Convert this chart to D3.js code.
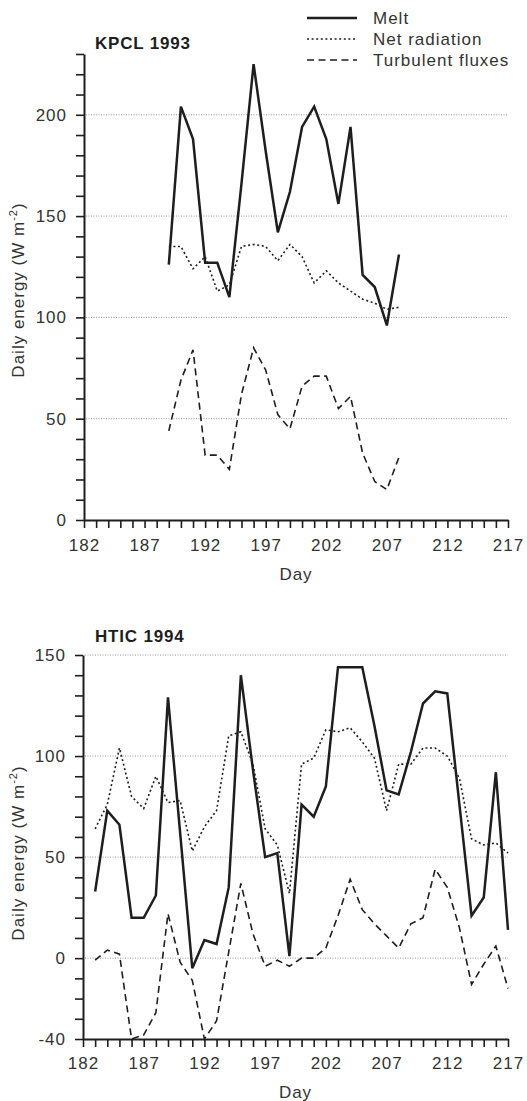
<!DOCTYPE html>
<html><head><meta charset="utf-8">
<script src="https://cdn.jsdelivr.net/npm/d3@7"></script>
<style>
html,body{margin:0;padding:0;background:#fff;}
svg{display:block;font-family:"Liberation Sans",Arial,Helvetica,sans-serif;}
</style></head>
<body>
<svg id="chart" width="527" height="1101"></svg>
<script>
// ---------- data ----------
const days93 = d3.range(189, 209);
const melt93 = [126,204,188,127,127,110,166,225,182,142,162,194,204,188,156,194,121,115,96,131];
const net93  = [135,135,124,130,113,116,135,136,135,128,136,130,117,123,117,113,109,107,104,105];
const turb93 = [44,69,84,32,32,25,62,85,74,52,45,66,71,71,55,61,33,19,15,31];

const days94 = d3.range(183, 218);
const melt94 = [33,73,66,20,20,31,129,62,-5,9,7,35,140,93,50,52,1,76,70,85,144,144,144,115,83,81,102,126,132,131,76,21,30,92,14];
const net94  = [64,76,104,80,74,90,77,78,53,65,73,110,112,96,64,56,32,96,99,113,112,114,107,99,73,96,96,104,104,100,89,59,56,57,52];
const turb94 = [-1,4,2,-40,-38,-27,22,-2,-11,-40,-31,3,37,12,-4,-1,-4,0,0,5,21,39,24,17,11,5,17,20,44,35,15,-13,-3,6,-15];

const dayTicks = d3.range(182, 218);
const dayLabels = [182,187,192,197,202,207,212,217];
const yLabels93 = [0,50,100,150,200];
const yLabels94 = [-40,0,50,100,150];
const seriesNames = ["Melt","Net radiation","Turbulent fluxes"];
const titles = ["KPCL 1993","HTIC 1994"];

// ---------- styles ----------
const ink = "#1e1e1e";
const textCol = "#333";
const styles = [
  {w:2.5, dash:null},
  {w:1.6, dash:"2,2.6"},
  {w:1.6, dash:"7,4.5"}
];

const svg = d3.select("#chart");

function panel(cfg){
  const g = svg.append("g");
  const x = d3.scaleLinear().domain([182,217]).range([cfg.x0, cfg.x1]);
  const y = d3.scaleLinear().domain(cfg.yDomain).range([cfg.yBottom, cfg.yTop]);

  // grid
  g.append("g").selectAll("line").data(cfg.grid).join("line")
    .attr("x1", cfg.x0+2).attr("x2", cfg.x1)
    .attr("y1", d=>y(d)).attr("y2", d=>y(d))
    .attr("stroke","#9a9a9a").attr("stroke-width",1).attr("stroke-dasharray","1,1.5");

  // y axis
  const ya = g.append("g").attr("transform",`translate(${cfg.x0},0)`)
    .call(d3.axisLeft(y).tickValues(d3.range(cfg.yDomain[0], cfg.yDomain[1]+1, 10))
      .tickFormat(d => cfg.yLabels.includes(d) ? d : "")
      .tickSize(8).tickSizeOuter(0).tickPadding(9));
  // x axis
  const xa = g.append("g").attr("transform",`translate(0,${cfg.yBottom})`)
    .call(d3.axisBottom(x).tickValues(dayTicks)
      .tickFormat(d => dayLabels.includes(d) ? d : "")
      .tickSize(8).tickSizeOuter(0).tickPadding(cfg.xPad));
  [ya,xa].forEach(a=>{
    a.select(".domain").attr("stroke",ink).attr("stroke-width",2);
    a.selectAll(".tick line").attr("stroke",ink).attr("stroke-width",1.6);
    a.selectAll(".tick text").attr("fill",textCol).style("font-size","17px").style("letter-spacing","1px");
  });

  // lines
  const line = d3.line().x((d,i)=>x(cfg.days[i])).y(d=>y(d));
  cfg.series.forEach((s,k)=>{
    g.append("path").datum(s).attr("d",line)
      .attr("fill","none").attr("stroke",ink)
      .attr("stroke-width",styles[k].w)
      .attr("stroke-dasharray",styles[k].dash)
      .attr("stroke-linejoin","miter");
  });

  // title
  g.append("text").attr("x",95).attr("y",cfg.titleY).text(cfg.title)
    .attr("fill",ink).style("font-weight","bold").style("font-size","17px").style("letter-spacing","0.8px");

  // axis titles
  g.append("text").attr("x",(cfg.x0+cfg.x1)/2).attr("y",cfg.dayY).attr("text-anchor","middle")
    .attr("fill",textCol).style("font-size","17px").style("letter-spacing","1px").text("Day");
  const yl = g.append("text").attr("transform",`translate(24,${cfg.ylabY}) rotate(-90)`)
    .attr("text-anchor","middle").attr("fill",textCol).style("font-size","17px").style("letter-spacing","1px");
  yl.append("tspan").text("Daily energy (W m");
  yl.append("tspan").attr("dy","-7").style("font-size","11px").text("-2");
  yl.append("tspan").attr("dy","7").text(")");
}

panel({x0:84, x1:508, yTop:54, yBottom:520, yDomain:[0,230], yLabels:yLabels93, grid:[50,100,150,200],
  days:days93, series:[melt93,net93,turb93], title:titles[0], titleY:49, xPad:11, dayY:580, ylabY:290});
panel({x0:83, x1:508, yTop:655, yBottom:1039, yDomain:[-40,150], yLabels:yLabels94, grid:[0,50,100,150],
  days:days94, series:[melt94,net94,turb94], title:titles[1], titleY:642, xPad:10, dayY:1098, ylabY:853});

// legend
const leg = svg.append("g");
seriesNames.forEach((n,k)=>{
  const yy = 18 + k*21;
  leg.append("line").attr("x1",307).attr("x2",357).attr("y1",yy).attr("y2",yy)
    .attr("stroke",ink).attr("stroke-width",styles[k].w).attr("stroke-dasharray",styles[k].dash);
  leg.append("text").attr("x",373).attr("y",yy).attr("dy","0.36em").text(n)
    .attr("fill",textCol).style("font-size","17px").style("letter-spacing","1px");
});
</script>
</body></html>
